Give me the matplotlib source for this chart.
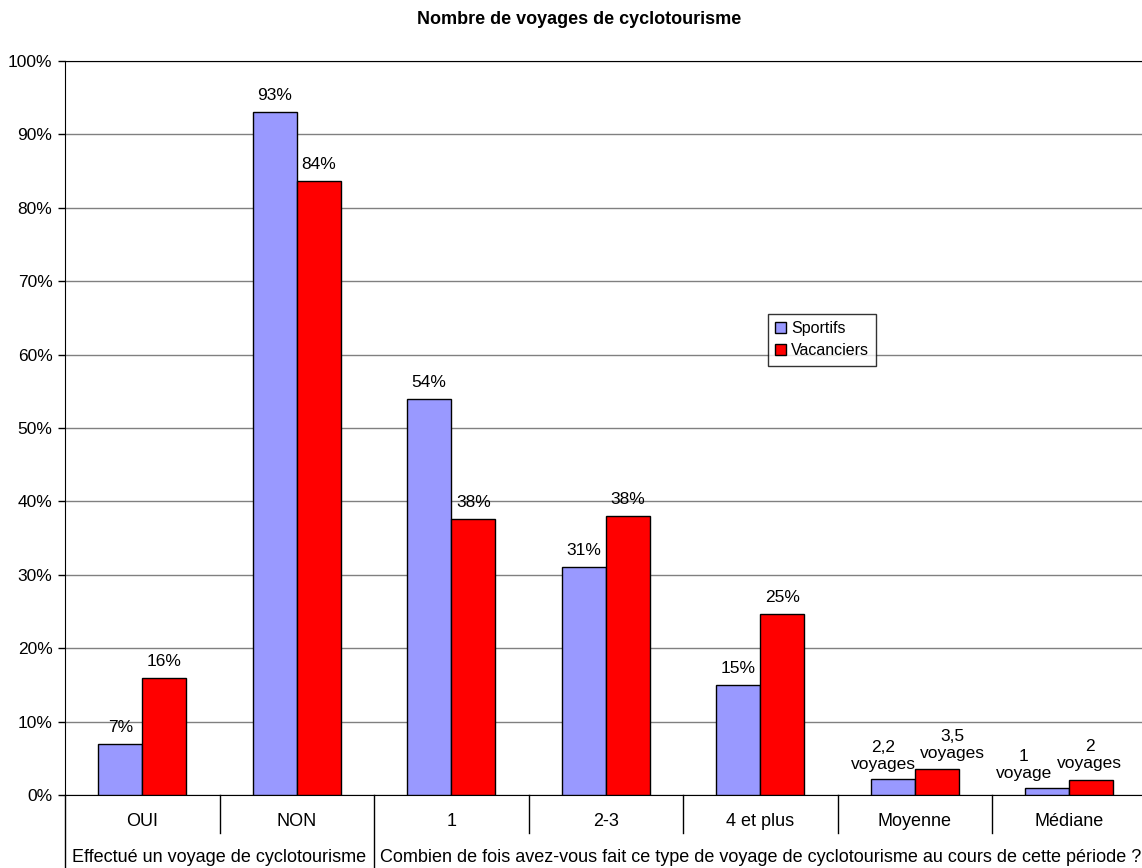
import numpy as np
import matplotlib.pyplot as plt
from matplotlib.transforms import blended_transform_factory

plt.rcParams['font.family'] = ['Liberation Sans', 'DejaVu Sans']

categories = ['OUI', 'NON', '1', '2-3', '4 et plus', 'Moyenne', 'Médiane']
sportifs = [7, 93, 54, 31, 15, 2.2, 1]
vacanciers = [16, 83.6, 37.6, 38, 24.7, 3.5, 2]
lab_sportifs = ['7%', '93%', '54%', '31%', '15%', '2,2\nvoyages', '1\nvoyage']
lab_vacanciers = ['16%', '84%', '38%', '38%', '25%', '3,5\nvoyages', '2\nvoyages']
groups = ['Effectué un voyage de cyclotourisme',
          'Combien de fois avez-vous fait ce type de voyage de cyclotourisme au cours de cette période ?']

# label offsets in points (the two-line labels are nudged apart like in the original)
off_sportifs = [(0, 6.5)] * 5 + [(-7, 5), (-17, 5)]
off_vacanciers = [(0, 6.5)] * 5 + [(11.5, 6), (-1, 7)]

fig = plt.figure(figsize=(11.42, 8.68), dpi=100)
ax = fig.add_axes([65/1142, 73/868, 1081.5/1142, 734/868])

x = np.arange(len(categories))
w = 0.285
b1 = ax.bar(x - w/2, sportifs, w, color='#9999FF', edgecolor='black', lw=1, label='Sportifs', zorder=3)
b2 = ax.bar(x + w/2, vacanciers, w, color='#FF0000', edgecolor='black', lw=1, label='Vacanciers', zorder=3)

for bars, labs, offs in [(b1, lab_sportifs, off_sportifs), (b2, lab_vacanciers, off_vacanciers)]:
    for r, t, o in zip(bars, labs, offs):
        ax.annotate(t, (r.get_x() + r.get_width()/2, r.get_height()), xytext=o,
                    textcoords='offset points', ha='center', va='bottom', fontsize=12.5,
                    linespacing=1.15, zorder=4)

ax.set_xlim(-0.5, 6.5)
ax.set_ylim(0, 100)
ax.set_yticks(np.arange(0, 101, 10))
ax.set_yticklabels([f'{v}%' for v in range(0, 101, 10)], fontsize=12.5)
ax.yaxis.grid(True, color='#808080', lw=1, zorder=0)
ax.tick_params(axis='y', length=5, width=1, pad=4)
ax.set_xticks(x)
ax.set_xticklabels(categories, fontsize=13)
ax.tick_params(axis='x', length=0, pad=13)
ax.spines['right'].set_visible(False)
ax.spines['top'].set_color('black')

# separators under the axis
tr = blended_transform_factory(ax.transData, ax.transAxes)
for i in range(len(categories) - 1):
    bottom = -0.0995 if i == 1 else -0.052
    ax.plot([i + 0.5, i + 0.5], [0, bottom], color='black', lw=1, transform=tr, clip_on=False)
ax.plot([-0.5, -0.5], [0, -0.0995], color='black', lw=1, transform=tr, clip_on=False)

ax.text(0.5, -0.085, groups[0], transform=tr, ha='center', va='center', fontsize=13)
ax.text(4.0, -0.085, groups[1], transform=tr, ha='center', va='center', fontsize=13)

fig.text(579.5/1142, 1 - 19/868, 'Nombre de voyages de cyclotourisme', ha='center', va='center',
         fontsize=13, fontweight='bold')

leg = ax.legend(loc='upper left', bbox_to_anchor=(768/1142, 1 - 314/868),
                bbox_transform=fig.transFigure, fontsize=11.5, frameon=True, fancybox=False,
                handlelength=0.7, handleheight=0.7, handletextpad=0.3, borderpad=0.45,
                labelspacing=0.45, borderaxespad=0)
leg.get_frame().set_edgecolor('black')
leg.get_frame().set_linewidth(1)

fig.savefig('out.png', dpi=100)
